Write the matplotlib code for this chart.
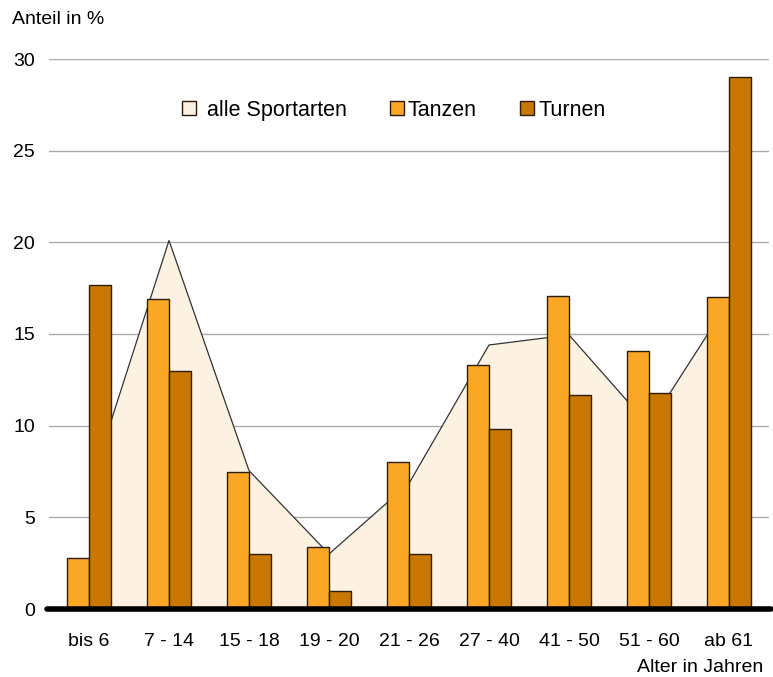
import matplotlib.pyplot as plt
import matplotlib.patches as patches
import numpy as np

# data
kategorien = ["bis 6", "7 - 14", "15 - 18", "19 - 20", "21 - 26",
              "27 - 40", "41 - 50", "51 - 60", "ab 61"]
alle_sportarten = [6.5, 20.1, 7.55, 3.0, 6.85, 14.4, 14.95, 10.0, 16.8]
tanzen = [2.8, 16.9, 7.5, 3.4, 8.0, 13.3, 17.1, 14.1, 17.0]
turnen = [17.7, 13.0, 3.0, 1.0, 3.0, 9.8, 11.7, 11.8, 29.0]
y_ticks = [0, 5, 10, 15, 20, 25, 30]

c_alle = "#FDF1E1"
c_tanzen = "#FBA625"
c_turnen = "#C87800"
c_edge = "#2b1d05"

plt.rcParams["font.family"] = ["Liberation Sans Narrow", "Liberation Sans", "DejaVu Sans"]

fig = plt.figure(figsize=(7.73, 6.77), dpi=100)
ax = fig.add_axes([49 / 773, 68 / 677, 720 / 773, 550 / 677])

x = np.arange(len(kategorien))
w = 0.275

# gridlines
for t in y_ticks[1:]:
    ax.axhline(t, color="#aaaaaa", lw=1.0, zorder=0)

# area for all sports (line clipped to the span of the area so no stub pokes out)
ax.fill_between(x, 0, alle_sportarten, color=c_alle, lw=0, zorder=1)
line, = ax.plot(x, alle_sportarten, color="#333333", lw=0.9, zorder=1.5)
clip = patches.Rectangle((x[0] + 0.02, 0), x[-1] - x[0] - 0.04, 40, transform=ax.transData)
line.set_clip_path(clip)

# bars
ax.bar(x - w / 2, tanzen, width=w, color=c_tanzen, edgecolor=c_edge, lw=1.0, zorder=2)
ax.bar(x + w / 2, turnen, width=w, color=c_turnen, edgecolor=c_edge, lw=1.0, zorder=2)

# thick baseline
ax.plot([-0.53, 8.52], [0, 0], color="black", lw=4, solid_capstyle="round",
        zorder=4, clip_on=False)

ax.set_xlim(-0.5, 8.5)
ax.set_ylim(0, 30)
ax.set_yticks(y_ticks)
ax.set_yticklabels([str(t) for t in y_ticks], fontsize=14)
ax.set_xticks(x)
ax.set_xticklabels(kategorien, fontsize=14)
ax.tick_params(axis="both", length=0)
ax.tick_params(axis="y", pad=10)
ax.tick_params(axis="x", pad=17)
for s in ax.spines.values():
    s.set_visible(False)

fig.text(12 / 773, 1 - 20 / 677, "Anteil in %", fontsize=14, va="center", ha="left")
fig.text(763 / 773, 1 - 667 / 677, "Alter in Jahren", fontsize=14, va="center", ha="right")

handles = [patches.Patch(facecolor=c_alle, edgecolor=c_edge, lw=1.0),
           patches.Patch(facecolor=c_tanzen, edgecolor=c_edge, lw=1.0),
           patches.Patch(facecolor=c_turnen, edgecolor=c_edge, lw=1.0)]
labels = [" alle Sportarten", "Tanzen", "Turnen"]
ax.legend(handles, labels, ncol=3, loc="center", bbox_to_anchor=(0.479, 0.907),
          frameon=False, handlelength=0.65, handleheight=0.65, handletextpad=0.2,
          columnspacing=2.0, prop={"family": ["Liberation Sans", "DejaVu Sans"], "size": 15.5})

fig.savefig("out.png", dpi=100)
